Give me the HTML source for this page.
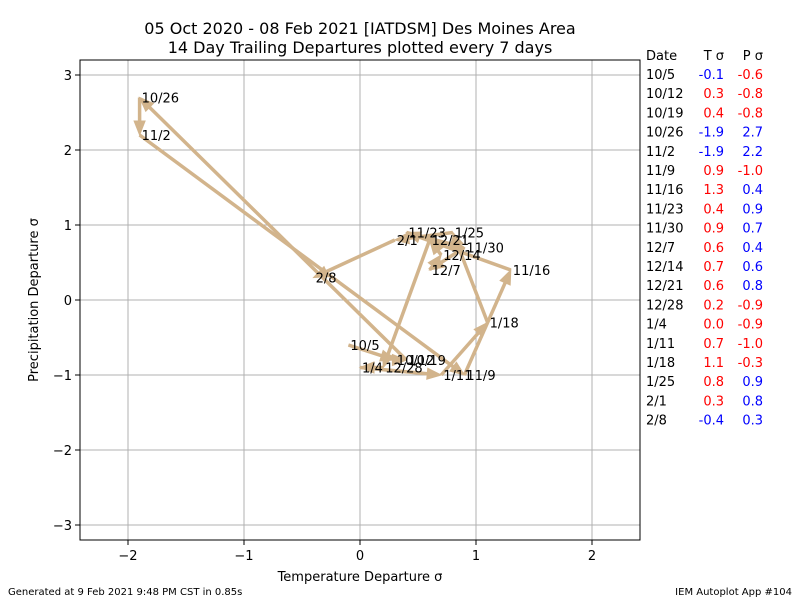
<!DOCTYPE html>
<html><head><meta charset="utf-8"><style>
body{margin:0;background:#fff;}
svg{font-family:"DejaVu Sans","Liberation Sans",sans-serif;}
</style></head><body>
<svg id="chart" width="800" height="600" xmlns="http://www.w3.org/2000/svg">
<rect width="800" height="600" fill="#fff"/>
<text x="360" y="34" font-size="16" text-anchor="middle">05 Oct 2020 - 08 Feb 2021 [IATDSM] Des Moines Area</text>
<text x="360" y="53" font-size="16" text-anchor="middle">14 Day Trailing Departures plotted every 7 days</text>
<g id="grid"></g>
<g id="marks"></g>
<rect x="80" y="60" width="560" height="480" fill="none" stroke="#000" stroke-width="1"/>
<g id="axes" font-size="13"></g>
<text x="360" y="581" font-size="13" text-anchor="middle">Temperature Departure σ</text>
<text transform="translate(38,300) rotate(-90)" font-size="13" text-anchor="middle">Precipitation Departure σ</text>
<g id="table" font-size="13"></g>
<text x="8" y="595" font-size="10">Generated at 9 Feb 2021 9:48 PM CST in 0.85s</text>
<text x="792" y="595" font-size="10" text-anchor="end">IEM Autoplot App #104</text>
</svg>
<script>
const dates=["10/5","10/12","10/19","10/26","11/2","11/9","11/16","11/23","11/30","12/7","12/14","12/21","12/28","1/4","1/11","1/18","1/25","2/1","2/8"];
const tVals=[-0.1,0.3,0.4,-1.9,-1.9,0.9,1.3,0.4,0.9,0.6,0.7,0.6,0.2,0.0,0.7,1.1,0.8,0.3,-0.4];
const pVals=[-0.6,-0.8,-0.8,2.7,2.2,-1.0,0.4,0.9,0.7,0.4,0.6,0.8,-0.9,-0.9,-1.0,-0.3,0.9,0.8,0.3];
const xTicks=[-2,-1,0,1,2];
const yTicks=[-3,-2,-1,0,1,2,3];
const NS="http://www.w3.org/2000/svg";
const X=v=>360+v*116, Y=v=>300-v*75;
function mk(tag,attrs,parent){const e=document.createElementNS(NS,tag);for(const k in attrs)e.setAttribute(k,attrs[k]);parent.appendChild(e);return e;}
const grid=document.getElementById('grid'),axes=document.getElementById('axes'),marks=document.getElementById('marks'),table=document.getElementById('table');
xTicks.forEach(t=>{
  const l=mk('line',{x1:X(t),x2:X(t),y1:60,y2:540,stroke:'#b0b0b0','stroke-width':1},grid);
  
  
  mk('line',{x1:X(t),x2:X(t),y1:540,y2:545,stroke:'#000'},axes);
  const tx=mk('text',{x:X(t),y:560,'text-anchor':'middle'},axes);tx.textContent=(t<0?'−':'')+Math.abs(t);
  
  
});
yTicks.forEach(t=>{
  const l=mk('line',{x1:80,x2:640,y1:Y(t),y2:Y(t),stroke:'#b0b0b0','stroke-width':1},grid);
  
  
  mk('line',{x1:75,x2:80,y1:Y(t),y2:Y(t),stroke:'#000'},axes);
  const tx=mk('text',{x:72,y:Y(t)+5,'text-anchor':'end'},axes);tx.textContent=(t<0?'−':'')+Math.abs(t);
  
  
});
const col='#d2b48c';
for(let i=0;i<dates.length-1;i++){
  const x1=X(tVals[i]),y1=Y(pVals[i]),x2=X(tVals[i+1]),y2=Y(pVals[i+1]);
  const dx=x2-x1,dy=y2-y1,L=Math.hypot(dx,dy)||1,ux=dx/L,uy=dy/L;
  const hl=14,hw=5.5,bx=x2-ux*hl,by=y2-uy*hl;
  const g=mk('g',{},marks);
  
  
  mk('line',{x1:x1,y1:y1,x2:bx,y2:by,stroke:col,'stroke-width':3.5},g);
  mk('polygon',{points:`${x2},${y2} ${bx-uy*hw},${by+ux*hw} ${bx+uy*hw},${by-ux*hw}`,fill:col,stroke:col},g);
}
dates.forEach((d,i)=>{
  const t=mk('text',{x:X(tVals[i])+2,y:Y(pVals[i])+5,'font-size':13},marks);t.textContent=d;
  
  
});
const h=[['Date',646,'start'],['T σ',724,'end'],['P σ',763,'end']];
h.forEach(c=>{const t=mk('text',{x:c[1],y:60,'text-anchor':c[2]},table);t.textContent=c[0];
  
  });
dates.forEach((d,i)=>{
  const y=79+i*19.2;
  const a=mk('text',{x:646,y:y},table);a.textContent=d;
  
  
  const b=mk('text',{x:724,y:y,'text-anchor':'end',fill:tVals[i]<0?'blue':'red'},table);b.textContent=tVals[i].toFixed(1);
  
  
  const c=mk('text',{x:763,y:y,'text-anchor':'end',fill:pVals[i]<0?'red':'blue'},table);c.textContent=pVals[i].toFixed(1);
  
  
});
</script>
</body></html>
